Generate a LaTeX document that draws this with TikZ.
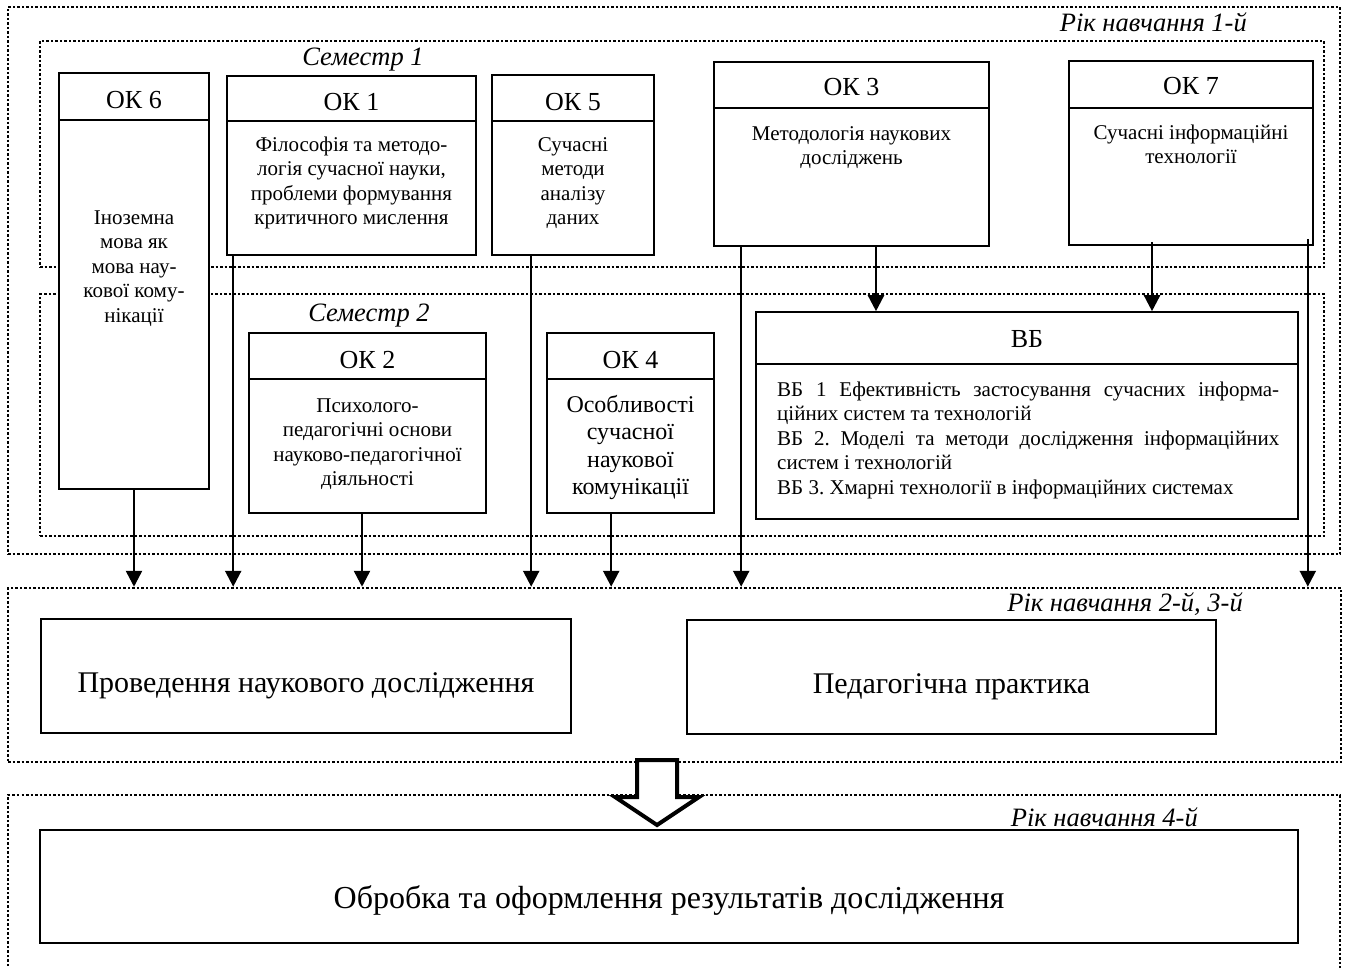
\documentclass[tikz,border=0pt]{standalone}
\usepackage{fontspec}
\setmainfont{Liberation Serif}
\usetikzlibrary{arrows.meta}
\frenchspacing
\newcommand\hdfont{\fontsize{26}{30}\selectfont}
\newcommand\bdfont{\fontsize{21}{24.5}\selectfont}
\newcommand\okfourfont{\fontsize{24}{27.5}\selectfont}
\newcommand\bigtxtfont{\fontsize{30}{34}\selectfont}
\newcommand\biggertxtfont{\fontsize{32}{36}\selectfont}
\newcommand\labfont{\fontsize{26.5}{30}\selectfont\itshape}
\tikzset{
  box/.style={draw, line width=1.6pt, fill=white, inner sep=0pt},
  dotbox/.style={draw, line width=2.5pt, dash pattern=on 2.5pt off 2pt, inner sep=0pt},
  divline/.style={line width=1.6pt},
  arr/.style={line width=2.5pt, -{Triangle[width=16pt,length=16pt]}},
  headtxt/.style={inner sep=0pt, font=\hdfont},
  bodytxt/.style={anchor=north, inner sep=0pt, align=center, font=\bdfont},
  bigtxt/.style={anchor=base, inner sep=0pt, font=\bigtxtfont},
  lab/.style={inner sep=0pt, font=\labfont}
}
\begin{document}
\begin{tikzpicture}[x=1pt,y=-1pt]
\useasboundingbox (0,0) rectangle (1352,967);

% dotted containers
\node[dotbox, minimum width=1332pt, minimum height=547pt] (yr1) at (674,280.5) {};
\node[dotbox, minimum width=1284pt, minimum height=226pt] (sem1) at (682,154) {};
\node[dotbox, minimum width=1284pt, minimum height=242pt] (sem2) at (682,415) {};
\node[dotbox, minimum width=1333pt, minimum height=174pt] (yr2) at (674.5,675) {};
\draw[line width=2.5pt, dash pattern=on 2.5pt off 2pt] (8,975) -- (8,795) -- (1340,795) -- (1340,975);

\node[lab, anchor=base east] (l1) at (1247,31) {Рік навчання 1-й};
\node[lab, anchor=base] (s1) at (363,65) {Семестр 1};
\node[lab, anchor=base] (s2) at (369,321) {Семестр 2};
\node[lab, anchor=base east] (l2) at (1243,611) {Рік навчання 2-й, 3-й};
\node[lab, anchor=base east] (l4) at (1198,826) {Рік навчання 4-й};

% OK boxes
\node[box, minimum width=150pt, minimum height=416pt] (ok6) at (134,281) {};
\draw[divline] (ok6.west |- 0,120) -- (ok6.east |- 0,120);
\node[headtxt] (h6) at (134,100) {ОК 6};
\node[bodytxt] (t6) at (134,207) {\strut Іноземна\\мова як\\мова нау-\\кової кому-\\нікації};

\node[box, minimum width=249pt, minimum height=179pt] (ok1) at (351.5,165.5) {};
\draw[divline] (ok1.west |- 0,121) -- (ok1.east |- 0,121);
\node[headtxt] (h1) at (351.5,102) {ОК 1};
\node[bodytxt] (t1) at (351.5,134) {\strut Філософія та методо-\\логія сучасної науки,\\проблеми формування\\критичного мислення};

\node[box, minimum width=162pt, minimum height=180pt] (ok5) at (573,165) {};
\draw[divline] (ok5.west |- 0,121) -- (ok5.east |- 0,121);
\node[headtxt] (h5) at (573,102) {ОК 5};
\node[bodytxt] (t5) at (573,134) {\strut Сучасні\\методи\\аналізу\\даних};

\node[box, minimum width=275pt, minimum height=184pt] (ok3) at (851.5,154) {};
\draw[divline] (ok3.west |- 0,108) -- (ok3.east |- 0,108);
\node[headtxt] (h3) at (851.5,87) {ОК 3};
\node[bodytxt] (t3) at (851.5,123) {\strut Методологія наукових\\досліджень};

\node[box, minimum width=244pt, minimum height=184pt] (ok7) at (1191,153) {};
\draw[divline] (ok7.west |- 0,108) -- (ok7.east |- 0,108);
\node[headtxt] (h7) at (1191,86) {ОК 7};
\node[bodytxt] (t7) at (1191,122) {\strut Сучасні інформаційні\\технології};

\node[box, minimum width=237pt, minimum height=180pt] (ok2) at (367.5,423) {};
\draw[divline] (ok2.west |- 0,379) -- (ok2.east |- 0,379);
\node[headtxt] (h2) at (367.5,360) {ОК 2};
\node[bodytxt] (t2) at (367.5,395) {\strut Психолого-\\педагогічні основи\\науково-педагогічної\\діяльності};

\node[box, minimum width=167pt, minimum height=180pt] (ok4) at (630.5,423) {};
\draw[divline] (ok4.west |- 0,379) -- (ok4.east |- 0,379);
\node[headtxt] (h4) at (630.5,360) {ОК 4};
\node[bodytxt, font=\okfourfont] (t4) at (630.5,393) {\strut Особливості\\сучасної\\наукової\\комунікації};

\node[box, minimum width=542pt, minimum height=207pt] (vb) at (1027,415.5) {};
\draw[divline] (vb.west |- 0,364) -- (vb.east |- 0,364);
\node[headtxt] (hvb) at (1027,339) {ВБ};
\node[bodytxt, anchor=north west, align=left] (tvb) at (777,379) {\strut\makebox[502pt][s]{ВБ 1 Ефективність застосування сучасних інформа-}\\ційних систем та технологій\\\makebox[502pt][s]{ВБ 2. Моделі та методи дослідження інформаційних}\\систем і технологій\\ВБ 3. Хмарні технології в інформаційних системах};

% lower boxes
\node[box, minimum width=530pt, minimum height=114pt] (pro) at (306,676) {};
\node[bigtxt] (tpro) at (306,692) {Проведення наукового дослідження};
\node[box, minimum width=529pt, minimum height=114pt] (ped) at (951.5,677) {};
\node[bigtxt] (tped) at (951.5,693) {Педагогічна практика};
\node[box, minimum width=1258pt, minimum height=113pt] (obr) at (669,886.5) {};
\node[bigtxt, font=\biggertxtfont] (tobr) at (669,908) {Обробка та оформлення результатів дослідження};

% connectors
\coordinate (a6) at (ok6.south);
\coordinate (a1) at ([xshift=7pt]ok1.south west);
\coordinate (a2) at ([xshift=-5.5pt]ok2.south);
\coordinate (a5) at ([xshift=40pt]ok5.south west);
\coordinate (a4) at ([xshift=65pt]ok4.south west);
\coordinate (a3l) at ([xshift=28pt]ok3.south west);
\coordinate (a3r) at ([xshift=24.5pt]ok3.south);
\coordinate (a7l) at ([xshift=-39pt,yshift=4pt]ok7.south);
\coordinate (a7r) at ([xshift=-6pt,yshift=7pt]ok7.south east);

\draw[arr] (a6) -- (a6 |- yr2.north);
\draw[arr] (a1) -- (a1 |- yr2.north);
\draw[arr] (a2) -- (a2 |- yr2.north);
\draw[arr] (a5) -- (a5 |- yr2.north);
\draw[arr] (a4) -- (a4 |- yr2.north);
\draw[arr] (a3l) -- (a3l |- yr2.north);
\draw[arr] (a3r) -- (a3r |- vb.north);
\draw[arr] (a7l) -- (a7l |- vb.north);
\draw[arr] (a7r) -- (a7r |- yr2.north);

% hollow block arrow between years
\draw[line width=4pt, fill=white, miter limit=10] (637,760) -- (677,760) -- (677,797) -- (699,797) -- (657,825) -- (615,797) -- (637,797) -- cycle;
\end{tikzpicture}
\end{document}
